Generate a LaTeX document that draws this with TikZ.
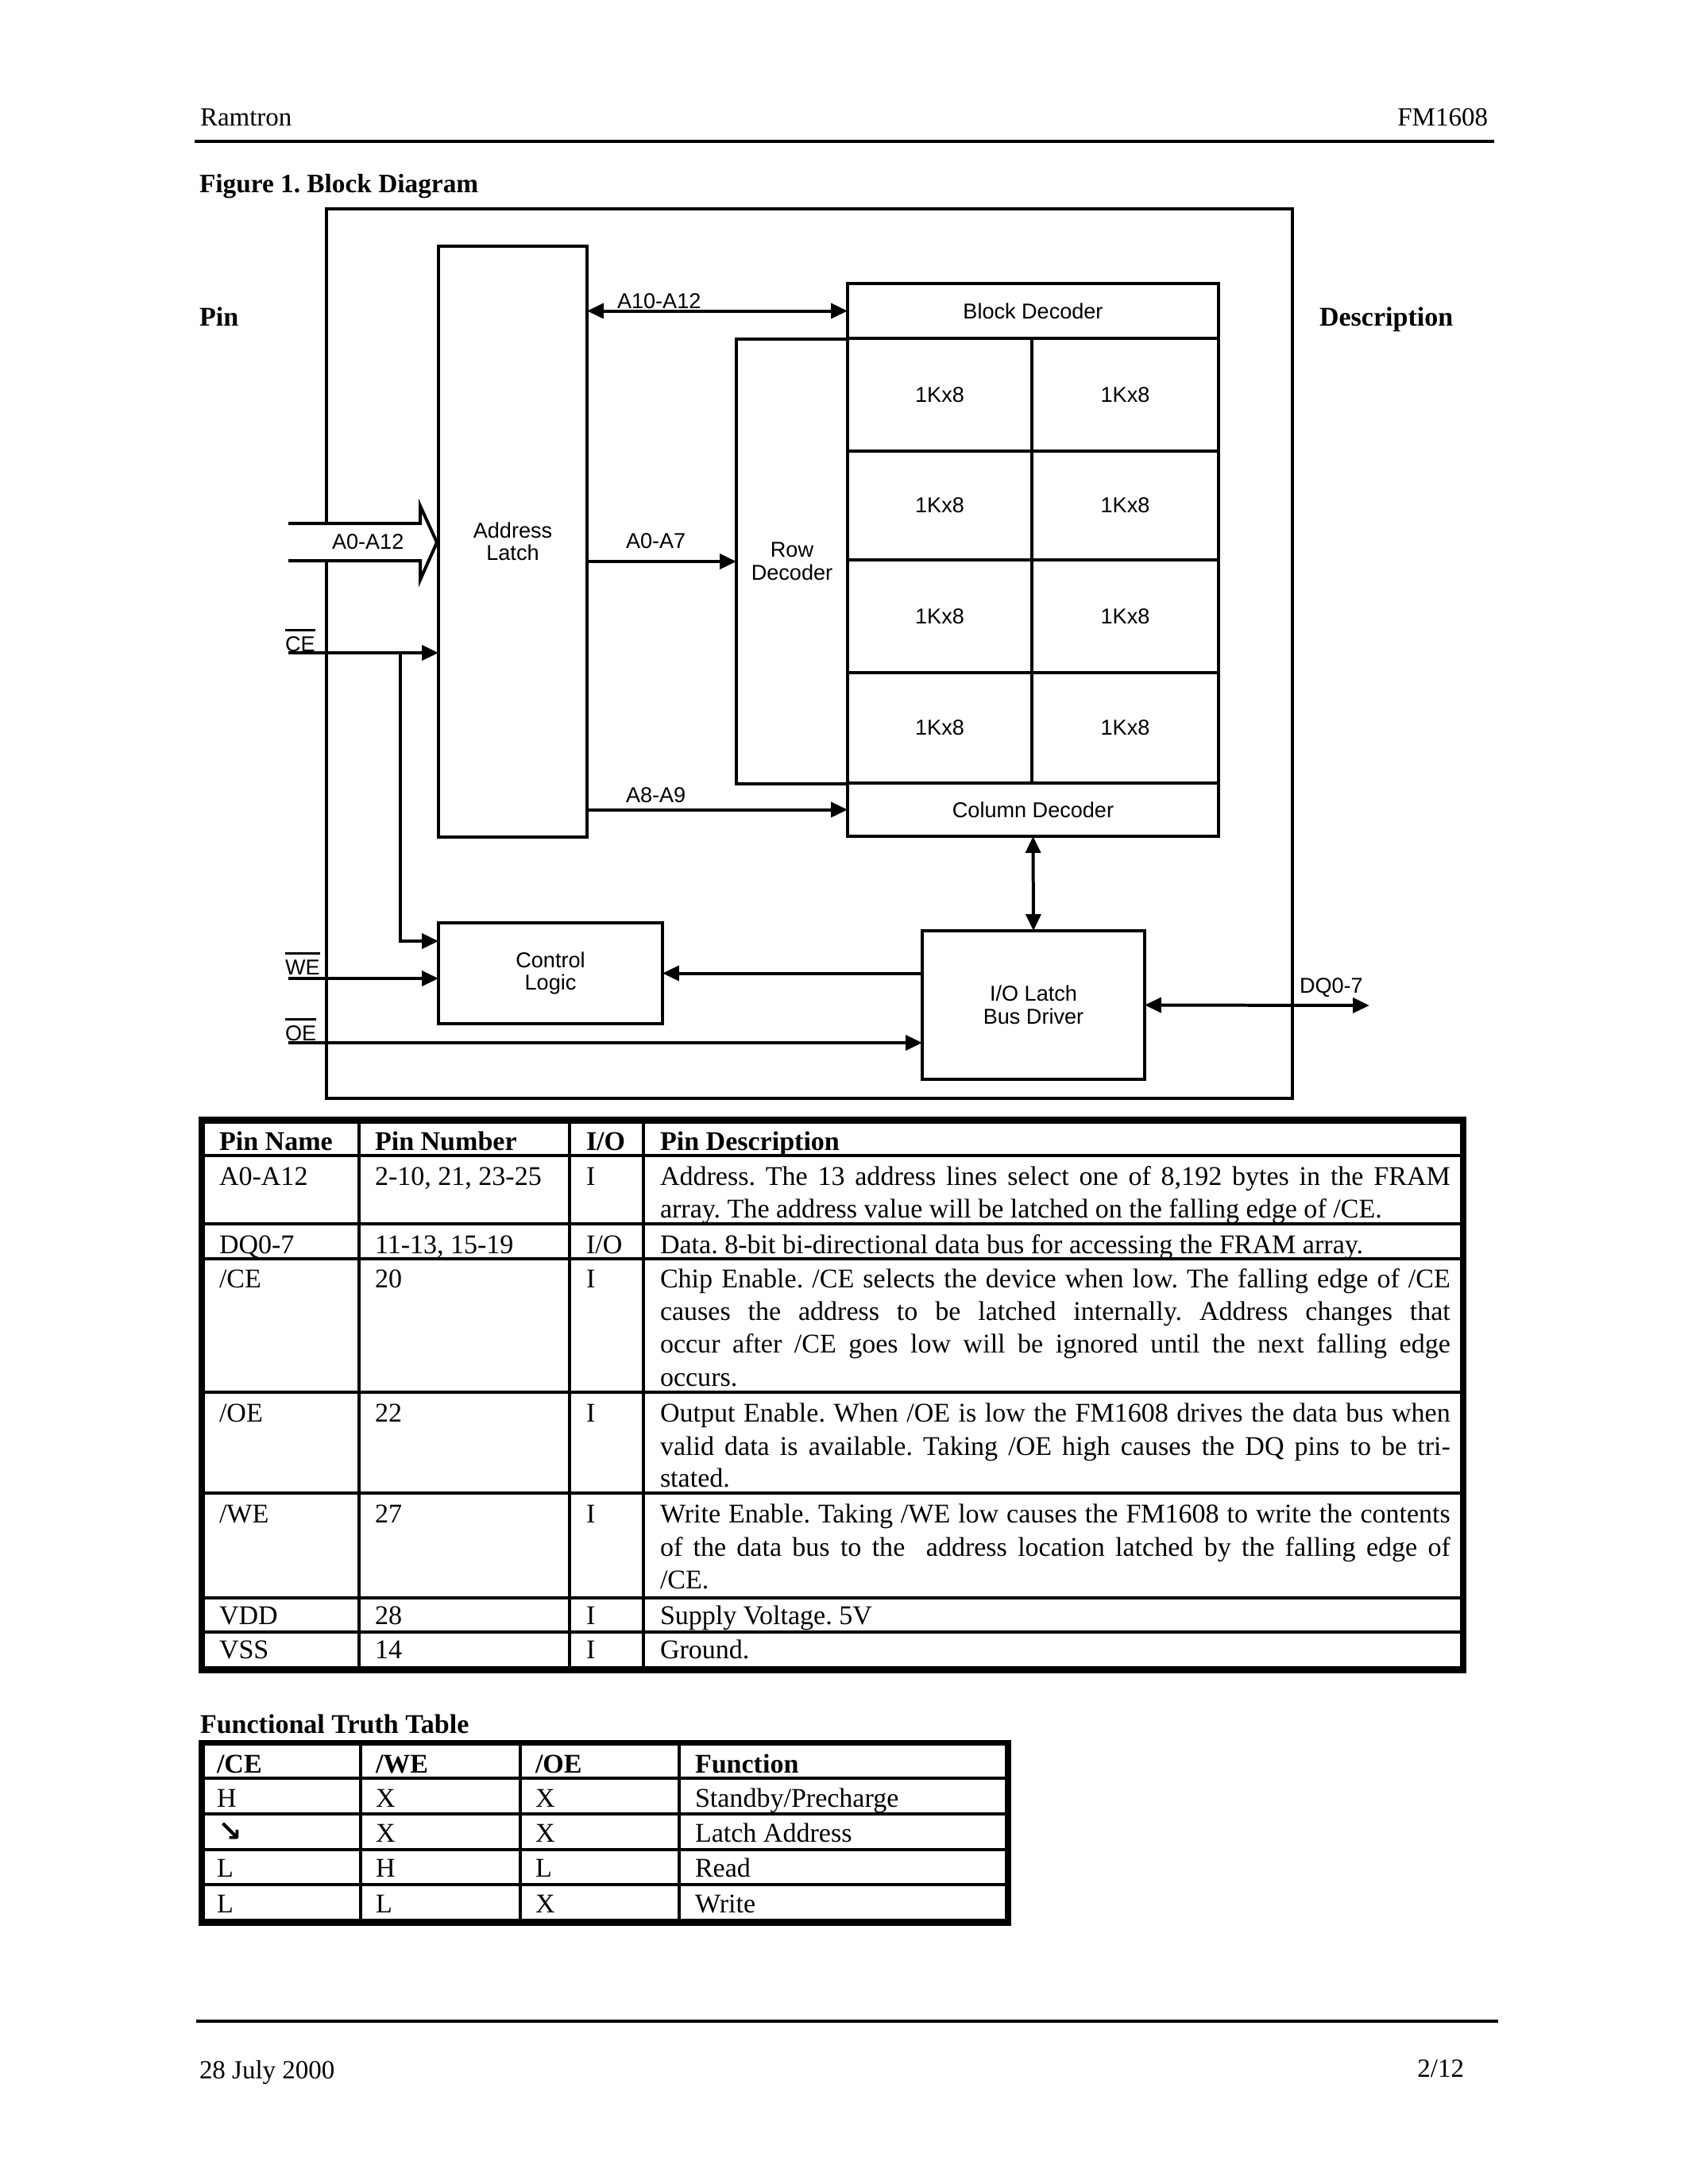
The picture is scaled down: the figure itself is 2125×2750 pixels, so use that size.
\documentclass[tikz,border=0pt]{standalone}
\usepackage{fontspec}
\setmainfont{Liberation Serif}
\newfontfamily\sansf{Liberation Sans}
\newfontfamily\djv{DejaVu Sans}
\usetikzlibrary{arrows.meta}
\frenchspacing
\newcommand\ovl[1]{\vbox{\hrule height 1pt\kern1.7pt\hbox{#1}}}
\newcommand\jl[1]{\makebox[286.5pt][s]{#1}}
\begin{document}
\begin{tikzpicture}[x=0.288pt,y=-0.288pt,
  every node/.style={inner sep=0pt, outer sep=0pt},
  dtxt/.style={font=\fontsize{7.8}{8.2}\sansf},
  rct/.style n args={4}{minimum width={(#3-#1)*0.288pt}, minimum height={(#4-#2)*0.288pt}, at={({(#1+#3)/2},{(#2+#4)/2})}},
  box/.style={draw, line width=1pt, inner sep=0pt, dtxt, align=center, rectangle},
  conn/.style={line width=1.15pt, >={Triangle[length=6pt,width=5.4pt]}},
  lab/.style={anchor=base west, dtxt},
  ser/.style={anchor=base west, font=\fontsize{9.8}{11.8}\selectfont},
  serb/.style={anchor=base west, font=\fontsize{9.8}{11.8}\selectfont\bfseries},
  hdr/.style={anchor=base west, font=\fontsize{9.5}{11}\selectfont},
  tline/.style={line width=1pt},
]
\useasboundingbox (0,0) rectangle (2125,2750);
\fill[white] (0,0) rectangle (2125,2750);

% ---------- header / footer ----------
\node[hdr] (hl) at (252,158) {Ramtron};
\node[hdr, anchor=base east] (hr) at (1873,158) {FM1608};
\draw[line width=1pt] (245,178) -- (1881,178);
\node[hdr, font=\fontsize{9.6}{11}\selectfont\bfseries] (fig) at (251,242) {Figure 1. Block Diagram};
\node[serb] (pin) at (251,410) {Pin};
\node[serb] (desc) at (1661,410) {Description};
\draw[line width=1pt] (247,2545) -- (1886,2545);
\node[hdr] (fl) at (251,2617) {28 July 2000};
\node[hdr, anchor=base east] (fr) at (1843,2615) {2/12};

% ---------- block diagram ----------
\draw[line width=1pt] (411,659) -- (411,263) -- (1627,263) -- (1627,1383) -- (411,1383) -- (411,706);

\node[box, rct={552}{310}{739}{1054}] (latch) {Address\\Latch};
\node[box, rct={927}{427}{1067}{987}] (rowd) {Row\\Decoder};
\node[box, rct={1067}{357}{1534}{426}] (bd) {Block Decoder};
\node[box, rct={1067}{426}{1299}{568}] (c11) {1Kx8};
\node[box, rct={1299}{426}{1534}{568}] (c12) {1Kx8};
\node[box, rct={1067}{568}{1299}{705}] (c21) {1Kx8};
\node[box, rct={1299}{568}{1534}{705}] (c22) {1Kx8};
\node[box, rct={1067}{705}{1299}{847}] (c31) {1Kx8};
\node[box, rct={1299}{705}{1534}{847}] (c32) {1Kx8};
\node[box, rct={1067}{847}{1299}{986}] (c41) {1Kx8};
\node[box, rct={1299}{847}{1534}{986}] (c42) {1Kx8};
\node[box, rct={1067}{986}{1534}{1053}] (cd) {Column Decoder};
\node[box, rct={552}{1162}{834}{1289}] (ctl) {Control\\Logic};
\node[box, rct={1161}{1172}{1441}{1359}] (io) {I/O Latch\\Bus Driver};

% address bus (hollow arrow)
\draw[line width=1.15pt, line join=miter] (363,659) -- (529,659) -- (529,637) -- (550,683) -- (529,730) -- (529,706) -- (363,706);

\coordinate (cein) at (363,822);
\coordinate (cebr) at (504,822);
\coordinate (ctlce) at (552,1185);
\coordinate (wein) at (363,1232);
\coordinate (oein) at (363,1313);
\coordinate (dqout) at (1724,1266);

\draw[conn,<->] (bd.west -| latch.east) -- (bd.west);
\draw[conn,->] (rowd.west -| latch.east) -- (rowd.west);
\draw[conn,->] (cd.west -| latch.east) -- (cd.west);
\draw[conn,->] (cein) -- (cein -| latch.west);
\draw[conn,->] (cebr) |- (ctlce);
\draw[conn,->] (wein) -- (wein -| ctl.west);
\draw[conn,->] (oein) -- (oein -| io.west);
\draw[conn,->] (io.west |- ctl.east) -- (ctl.east);
\draw[conn,<->] (cd.south) -- (io.north);
\draw[conn,<->] (io.east) -- (dqout);

\node[lab] (l1) at (777,388) {A10-A12};
\node[lab] (l2) at (788,690) {A0-A7};
\node[lab] (l3) at (788,1010) {A8-A9};
\node[lab] (l4) at (418,691) {A0-A12};
\node[lab] (l5) at (1636,1250) {DQ0-7};
\node[lab] (lce) at (359,820) {\ovl{CE}};
\node[lab] (lwe) at (359,1227) {\ovl{WE}};
\node[lab] (loe) at (359,1310) {\ovl{OE}};

% ---------- pin table ----------
\foreach \xx in {452,717,810} \draw[tline] (\xx,1410) -- (\xx,2103);
\foreach \yy in {1455,1541,1585,1753,1880,2012,2055} \draw[tline] (254,\yy) -- (1842,\yy);
\draw[line width=2.3pt] (254,1406) -- (254,2107);
\draw[line width=2.3pt] (1842,1406) -- (1842,2107);
\draw[line width=2.6pt] (250,1410.5) -- (1846,1410.5);
\draw[line width=2.6pt] (250,2102.5) -- (1846,2102.5);

\node[serb] (p1) at (276,1448) {Pin Name};
\node[serb] (p2) at (472,1448) {Pin Number};
\node[serb] (p3) at (738,1448) {I/O};
\node[serb] (p4) at (831,1448) {Pin Description};

\node[ser] (a1) at (276,1492) {A0-A12};
\node[ser] (a2) at (472,1492) {2-10, 21, 23-25};
\node[ser] (a3) at (738,1492) {I};
\node[ser] (a4) at (831,1492) {\jl{Address. The 13 address lines select one of 8,192 bytes in the FRAM}};
\node[ser] (a5) at (831,1533) {array. The address value will be latched on the falling edge of /CE.};

\node[ser] (d1) at (276,1578) {DQ0-7};
\node[ser] (d2) at (472,1578) {11-13, 15-19};
\node[ser] (d3) at (738,1578) {I/O};
\node[ser] (d4) at (831,1578) {Data. 8-bit bi-directional data bus for accessing the FRAM array.};

\node[ser] (e1) at (276,1621) {/CE};
\node[ser] (e2) at (472,1621) {20};
\node[ser] (e3) at (738,1621) {I};
\node[ser] (e4) at (831,1621) {\jl{Chip Enable. /CE selects the device when low. The falling edge of /CE}};
\node[ser] (e5) at (831,1662) {\jl{causes the address to be latched internally. Address changes that}};
\node[ser] (e6) at (831,1703) {\jl{occur after /CE goes low will be ignored until the next falling edge}};
\node[ser] (e7) at (831,1745) {occurs.};

\node[ser] (o1) at (276,1790) {/OE};
\node[ser] (o2) at (472,1790) {22};
\node[ser] (o3) at (738,1790) {I};
\node[ser] (o4) at (831,1790) {\jl{Output Enable. When /OE is low the FM1608 drives the data bus when}};
\node[ser] (o5) at (831,1832) {\jl{valid data is available. Taking /OE high causes the DQ pins to be tri-}};
\node[ser] (o6) at (831,1872) {stated.};

\node[ser] (w1) at (276,1917) {/WE};
\node[ser] (w2) at (472,1917) {27};
\node[ser] (w3) at (738,1917) {I};
\node[ser] (w4) at (831,1917) {\jl{Write Enable. Taking /WE low causes the FM1608 to write the contents}};
\node[ser] (w5) at (831,1959) {\jl{of the data bus to the \ address location latched by the falling edge of}};
\node[ser] (w6) at (831,2000) {/CE.};

\node[ser] (v1) at (276,2045) {VDD};
\node[ser] (v2) at (472,2045) {28};
\node[ser] (v3) at (738,2045) {I};
\node[ser] (v4) at (831,2045) {Supply Voltage. 5V};

\node[ser] (s1) at (276,2088) {VSS};
\node[ser] (s2) at (472,2088) {14};
\node[ser] (s3) at (738,2088) {I};
\node[ser] (s4) at (831,2088) {Ground.};

% ---------- truth table ----------
\node[serb] (ftt) at (252,2182) {Functional Truth Table};
\foreach \xx in {454,655,855} \draw[tline] (\xx,2194) -- (\xx,2421);
\foreach \yy in {2239,2284,2329,2373} \draw[tline] (254,\yy) -- (1269,\yy);
\draw[line width=2.3pt] (254,2191) -- (254,2425);
\draw[line width=2.3pt] (1269,2191) -- (1269,2425);
\draw[line width=2.1pt] (250,2194.5) -- (1273,2194.5);
\draw[line width=2.6pt] (250,2420.5) -- (1273,2420.5);

\node[serb] (h1) at (273,2232) {/CE};
\node[serb] (h2) at (473,2232) {/WE};
\node[serb] (h3) at (674,2232) {/OE};
\node[serb] (h4) at (875,2232) {Function};

\node[ser] (r11) at (273,2275) {H};
\node[ser] (r12) at (473,2275) {X};
\node[ser] (r13) at (674,2275) {X};
\node[ser] (r14) at (875,2275) {Standby/Precharge};

\node[anchor=base west, font=\fontsize{10.5}{11}\djv\bfseries] (r21) at (274,2318) {↘};
\node[ser] (r22) at (473,2319) {X};
\node[ser] (r23) at (674,2319) {X};
\node[ser] (r24) at (875,2319) {Latch Address};

\node[ser] (r31) at (273,2363) {L};
\node[ser] (r32) at (473,2363) {H};
\node[ser] (r33) at (674,2363) {L};
\node[ser] (r34) at (875,2363) {Read};

\node[ser] (r41) at (273,2408) {L};
\node[ser] (r42) at (473,2408) {L};
\node[ser] (r43) at (674,2408) {X};
\node[ser] (r44) at (875,2408) {Write};
\end{tikzpicture}
\end{document}
